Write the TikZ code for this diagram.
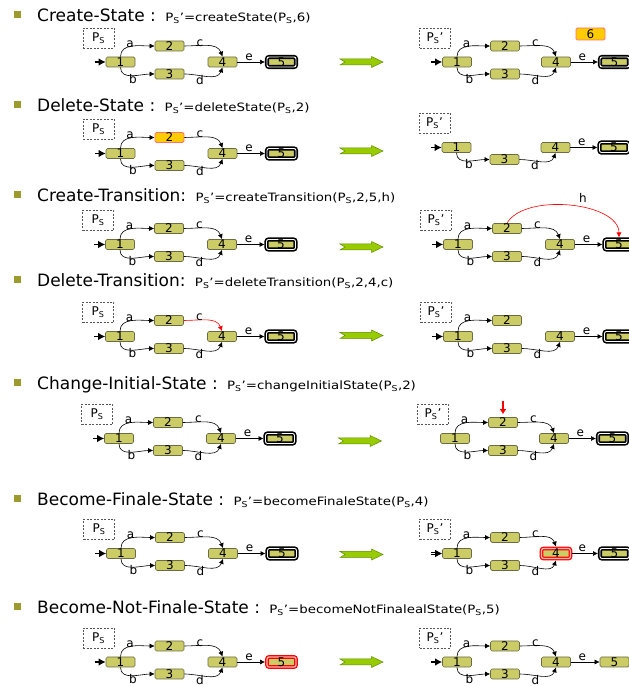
\documentclass[tikz,border=0pt]{standalone}
\usepackage{fontspec}
\setmainfont{DejaVu Sans}
\newfontfamily\formfont{DejaVu Sans}[FakeStretch=1.16]
\usetikzlibrary{arrows.meta}
\definecolor{stFill}{HTML}{CCCC66}
\definecolor{stDraw}{HTML}{6B6B47}
\definecolor{orFill}{HTML}{FFCC00}
\definecolor{orDraw}{HTML}{FF7070}
\definecolor{grFill}{HTML}{99CC00}
\definecolor{grDraw}{HTML}{5E8C00}
\definecolor{bulCol}{HTML}{9C9C2E}
\definecolor{psDraw}{HTML}{555555}
\newcommand{\PS}{P\textsubscript{S}}
\newcommand{\xB}{49}
\newcommand{\xD}{102}
\newcommand{\xE}{161}
\tikzset{
  stnode/.style={draw=stDraw, fill=stFill, line width=0.7pt, rounded corners=1.5pt,
    minimum width=29pt, minimum height=10pt, inner sep=0pt, font=\fontsize{12}{12}\selectfont},
  orst/.style={fill=orFill, draw=orDraw, line width=0.8pt},
  finalst/.style={draw=black, line width=1.6pt, double=white, double distance=0.9pt,
    rounded corners=2pt, outer sep=2pt},
  redfinal/.style={draw=red, line width=1.2pt, double=red!30, double distance=1.3pt,
    rounded corners=2pt, outer sep=1.9pt},
  st1/.style={}, st2/.style={}, st3/.style={}, st4/.style={}, st5/.style={finalst},
  conn/.style={draw=black, line width=0.6pt, -{Latex[length=5pt,width=5pt]}},
  ea/.style={}, eb/.style={}, ec/.style={}, ed/.style={}, ee/.style={},
  lbl/.style={font=\fontsize{12}{12}\selectfont, inner sep=0pt},
  psbox/.style={draw=psDraw, dash pattern=on 2pt off 1.5pt, line width=0.6pt,
    minimum width=31pt, minimum height=20pt, inner sep=0pt, font=\fontsize{12}{12}\selectfont},
  initarr/.style={draw=black, line width=1.1pt, -{Latex[length=7pt,width=7.5pt]}},
  inist/.style={},
  ttl/.style={anchor=base west, inner sep=0pt, font=\fontsize{17}{17}\selectfont},
  fml/.style={anchor=base west, inner sep=0pt, font=\formfont\fontsize{11.5}{12}\selectfont},
  bulletbox/.style={fill=bulCol, minimum size=7pt, inner sep=0pt},
  greenarr/.style={fill=grFill, draw=grDraw, line width=0.5pt},
}
\newcommand{\psb}[2]{\node[psbox] (#1box) at (-22,24) {#2};}
\newcommand{\nA}[1]{\node[stnode,st1] (#1n1) at (0,0) {1};}
\newcommand{\nB}[1]{\node[stnode,st2] (#1n2) at (\xB,16) {2};}
\newcommand{\nC}[1]{\node[stnode,st3] (#1n3) at (\xB,-12) {3};}
\newcommand{\nD}[1]{\node[stnode,st4] (#1n4) at (\xD,0) {4};}
\newcommand{\nE}[1]{\node[stnode,st5] (#1n5) at (\xE,0) {5};}
\newcommand{\ini}[1]{\draw[initarr,inist] ([xshift=-11pt]#1n1.west) -- (#1n1.west);}
\newcommand{\eA}[1]{\draw[conn,ea] (#1n1.north) to[out=90,in=180] (#1n2.west);
  \node[lbl] (#1la) at (9.5,18) {a};}
\newcommand{\eB}[1]{\draw[conn,eb] (#1n1.south) to[out=-90,in=180] (#1n3.west);
  \node[lbl] (#1lb) at (12.5,-17) {b};}
\newcommand{\eC}[1]{\draw[conn,ec] (#1n2.east) to[out=0,in=110] (#1n4.north);
  \node[lbl] (#1lc) at (\xB+30.5,19) {c};}
\newcommand{\eD}[1]{\draw[conn,ed] (#1n3.east) to[out=0,in=-110] (#1n4.south);
  \node[lbl] (#1ld) at (\xB+30.5,-18) {d};}
\newcommand{\eE}[1]{\draw[conn,ee] (#1n4.east) -- (#1n5.west);
  \node[lbl] (#1le) at ({(\xD+\xE)/2-3},5) {e};}
\newcommand{\fullaut}[2]{\psb{#1}{#2}\nA{#1}\nB{#1}\nC{#1}\nD{#1}\nE{#1}\ini{#1}%
  \eA{#1}\eB{#1}\eC{#1}\eD{#1}\eE{#1}}
\newcommand{\compress}{\def\xB{48}\def\xD{99}\def\xE{157.5}}
\newcommand{\garr}[2]{\draw[greenarr,shift={(#1,#2)}] (-21.5,3) -- (10,3) -- (10,5.5)
  -- (21.5,0) -- (10,-5.5) -- (10,-3) -- (-21.5,-3) -- (-16.5,0) -- cycle;}
\newcommand{\rowtitle}[4]{%
  \node[bulletbox] (b#1) at (17,#2+7) {};
  \node[ttl] (t#1) at (37,#2) {#3};
  \node[fml] (f#1) at ([xshift=9pt]t#1.base east) {#4};}

\begin{document}
\begin{tikzpicture}[x=1pt,y=1pt]
\useasboundingbox (0,0) rectangle (629,686);
\fill[white] (0,0) rectangle (629,686);
\clip (0,0) rectangle (629,686);

% ---------- Row 1
\rowtitle{1}{664}{Create-State :}{\PS’=createState(\PS,6)}
\begin{scope}[shift={(120.5,624)}]
  \fullaut{L1}{\PS}
\end{scope}
\garr{361.5}{624}
\begin{scope}[shift={(457,624)}]
  \compress
  \fullaut{R1}{\PS’}
  \node[stnode,orst,minimum height=12pt] (R1n6) at (133.5,28) {6};
\end{scope}

% ---------- Row 2
\rowtitle{2}{574.5}{Delete-State :}{\PS’=deleteState(\PS,2)}
\begin{scope}[shift={(120.5,532.5)}, st2/.style={orst}]
  \fullaut{L2}{\PS}
\end{scope}
\garr{361.5}{535}
\begin{scope}[shift={(456.5,538.5)}]
  \compress
  \psb{R2}{\PS’}\nA{R2}\nC{R2}\nD{R2}\nE{R2}\ini{R2}\eB{R2}\eD{R2}\eE{R2}
\end{scope}

% ---------- Row 3
\rowtitle{3}{484}{Create-Transition:}{\PS’=createTransition(\PS,2,5,h)}
\begin{scope}[shift={(120,441.5)}]
  \fullaut{L3}{\PS}
\end{scope}
\garr{361.5}{439}
\begin{scope}[shift={(458,441.5)}]
  \fullaut{R3}{\PS’}
  \draw[conn,draw=red,-{Latex[length=5pt,width=5pt]}] (R3n2.north) to[out=60,in=90,looseness=0.8] (R3n5.north);
  \node[lbl] (R3lh) at (125,46.5) {h};
\end{scope}

% ---------- Row 4
\rowtitle{4}{399}{Delete-Transition:}{\PS’=deleteTransition(\PS,2,4,c)}
\begin{scope}[shift={(120,349.5)}, ec/.style={draw=red}]
  \fullaut{L4}{\PS}
\end{scope}
\garr{361.5}{350.5}
\begin{scope}[shift={(458,349.5)}]
  \psb{R4}{\PS’}\nA{R4}\nB{R4}\nC{R4}\nD{R4}\nE{R4}\ini{R4}\eA{R4}\eB{R4}\eD{R4}\eE{R4}
\end{scope}

% ---------- Row 5
\rowtitle{5}{296}{Change-Initial-State :}{\PS’=changeInitialState(\PS,2)}
\begin{scope}[shift={(119,247.5)}]
  \fullaut{L5}{\PS}
\end{scope}
\garr{360}{245}
\begin{scope}[shift={(455,247.5)}]
  \compress
  \psb{R5}{\PS’}\nA{R5}\nB{R5}\nC{R5}\nD{R5}\nE{R5}\eA{R5}\eB{R5}\eC{R5}\eD{R5}\eE{R5}
  \draw[draw=red, line width=1.4pt, shorten >=3pt, -{Latex[length=5pt,width=7pt]}] ([yshift=16pt]R5n2.north) -- (R5n2.north);
\end{scope}

% ---------- Row 6
\rowtitle{6}{180}{Become-Finale-State :}{\PS’=becomeFinaleState(\PS,4)}
\begin{scope}[shift={(121,132.5)}]
  \fullaut{L6}{\PS}
\end{scope}
\garr{361.5}{131.5}
\begin{scope}[shift={(457,132.5)}, st4/.style={redfinal},
    inist/.style={double=white, double distance=1pt, line width=0.6pt}]
  \compress
  \fullaut{R6}{\PS’}
\end{scope}

% ---------- Row 7
\rowtitle{7}{72}{Become-Not-Finale-State :}{\PS’=becomeNotFinalealState(\PS,5)}
\begin{scope}[shift={(120.5,24)}, st5/.style={redfinal}]
  \fullaut{L7}{\PS}
\end{scope}
\garr{361.5}{24}
\begin{scope}[shift={(457,24)}, st5/.style={}]
  \compress
  \fullaut{R7}{\PS’}
\end{scope}
\end{tikzpicture}
\end{document}
